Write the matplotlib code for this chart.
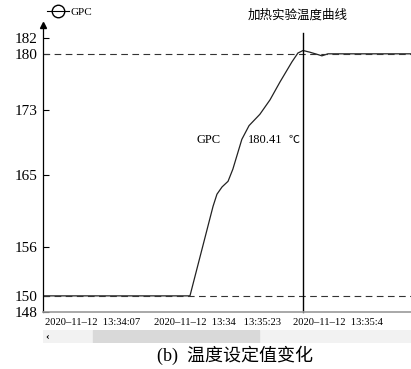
import matplotlib
matplotlib.use("Agg")
import matplotlib.pyplot as plt
from matplotlib.lines import Line2D
from matplotlib.patches import Rectangle

plt.rcParams['font.family'] = ['Liberation Serif', 'Noto Sans CJK SC', 'DejaVu Sans']

# heating run, seconds from 13:34:07
times = [0, 49.0, 56.7, 58.0, 59.7, 61.7, 63.3, 66.3, 68.7, 72.3, 75.7, 79.0,
         83.0, 85.0, 86.7, 89.0, 91.7, 93.0, 95.0, 122.7]
temps = [150.0, 150.0, 161.1, 162.6, 163.5, 164.2, 165.7, 169.4, 171.1, 172.5,
         174.3, 176.5, 179.0, 180.1, 180.41, 180.2, 179.9, 179.75, 180.0, 180.0]
setpoints = [180, 150]
y_ticks = [148, 150, 156, 165, 173, 180, 182]
x_tick_pos = [0.7, 37.0, 83.3]
x_tick_labels = ["2020\u201311\u201312  13:34:07",
                 "2020\u201311\u201312  13:34   13:35:23",
                 "2020\u201311\u201312  13:35:4"]
cursor_t = 86.7
cursor_val = 180.41

fig = plt.figure(figsize=(4.11, 3.69), dpi=100)
ax = fig.add_axes([43/411, 57/369, 368/411, 284/369])

ax.plot(times, temps, color='#222222', lw=0.9)
for sp in setpoints:
    ax.axhline(sp, color='#333333', lw=0.8, ls=(0, (6, 4)))
ax.plot([cursor_t, cursor_t], [148, 182.6], color='black', lw=1.0, clip_on=False)

ax.text(51.3, 169.3, "GPC", fontsize=9, va='center', ha='left')
ax.text(68.3, 169.3, "%.2f" % cursor_val, fontsize=9, va='center', ha='left')
ax.text(82.0, 169.3, "\u2103", fontsize=8, va='center', ha='left',
        family=['Noto Sans CJK SC', 'DejaVu Sans'])

ax.set_xlim(0, 122.7)
ax.set_ylim(148, 183.2)
ax.set_yticks(y_ticks)
ax.set_yticklabels([str(v) for v in y_ticks], fontsize=11)
ax.tick_params(axis='y', direction='in', length=4, width=0.8, pad=4)
ax.set_xticks(x_tick_pos)
ax.set_xticklabels(x_tick_labels, fontsize=7.6, ha='left')
ax.tick_params(axis='x', length=0, pad=4)

for s in ['top', 'right']:
    ax.spines[s].set_visible(False)
ax.spines['left'].set_linewidth(0.9)
ax.spines['bottom'].set_color('#999999')
ax.spines['bottom'].set_linewidth(1.2)
ax.plot(0, 1.01, marker='^', color='black', markersize=5,
        transform=ax.transAxes, clip_on=False)

# scroll bar under the time axis
sb = fig.add_axes([43/411, 26/369, 368/411, 13/369])
sb.set_xlim(0, 1)
sb.set_ylim(0, 1)
sb.axis('off')
sb.add_patch(Rectangle((0, 0), 1, 1, color='#f2f2f2'))
sb.add_patch(Rectangle((0.136, 0), 0.451, 1, color='#d9d9d9'))
sb.text(0.012, 0.5, "\u2039", fontsize=8, va='center', ha='center', fontweight='bold')

handle = Line2D([], [], color='black', lw=0.8, marker='o', mfc='none', mec='black', ms=9)
fig.legend([handle], ["GPC"], loc='center left', bbox_to_anchor=(47/411, 1 - 12/369),
           frameon=False, fontsize=8, handlelength=2.0, handletextpad=0.1,
           borderpad=0, borderaxespad=0)

fig.text(298/411, 1 - 15/369, "加热实验温度曲线", fontsize=9, ha='center', va='center')
fig.text(235/411, 1 - 355/369, "(b)  温度设定值变化", fontsize=13, ha='center', va='center')

fig.savefig("out.png", dpi=100)
